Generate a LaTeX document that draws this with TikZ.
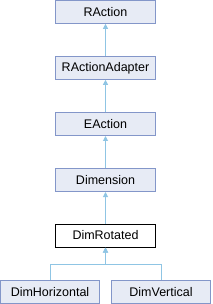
\documentclass[tikz,border=0pt]{standalone}
\usepackage{fontspec}
\setmainfont{Liberation Sans}
\usetikzlibrary{arrows.meta}
\definecolor{boxfill}{HTML}{E7EBF5}
\definecolor{boxdraw}{HTML}{8396C9}
\definecolor{edgecol}{HTML}{8FC5E4}
\tikzset{
  cls/.style={draw=boxdraw, fill=boxfill, line width=1pt, minimum width=100pt, minimum height=23pt, inner sep=0pt, font=\fontsize{12.5}{14}\selectfont},
  cur/.style={cls, draw=black, fill=white},
  inh/.style={draw=edgecol, line width=1pt, -{Triangle[width=5pt,length=5pt]}}
}
\begin{document}
\begin{tikzpicture}[x=1pt,y=-1pt]
\useasboundingbox (0,0) rectangle (212,304);
\node[cls] (ra) at (105.5,11.8) {RAction};
\node[cls] (raa) at (105.5,67.8) {RActionAdapter};
\node[cls] (ea) at (105.5,124) {EAction};
\node[cls] (dim) at (105.5,180) {Dimension};
\node[cur] (dr) at (105.5,235.5) {DimRotated};
\node[cls, minimum width=99pt] (dh) at (50,292) {DimHorizontal};
\node[cls, minimum width=99pt] (dv) at (161,292) {DimVertical};
\draw[inh] (raa.north) -- (ra.south);
\draw[inh] (ea.north) -- (raa.south);
\draw[inh] (dim.north) -- (ea.south);
\draw[inh] (dr.north) -- (dim.south);
\draw[inh] (dh.north) -- ++(0,-16) -| (dr.south);
\draw[inh] (dv.north) -- ++(0,-16) -| (dr.south);
\end{tikzpicture}
\end{document}
